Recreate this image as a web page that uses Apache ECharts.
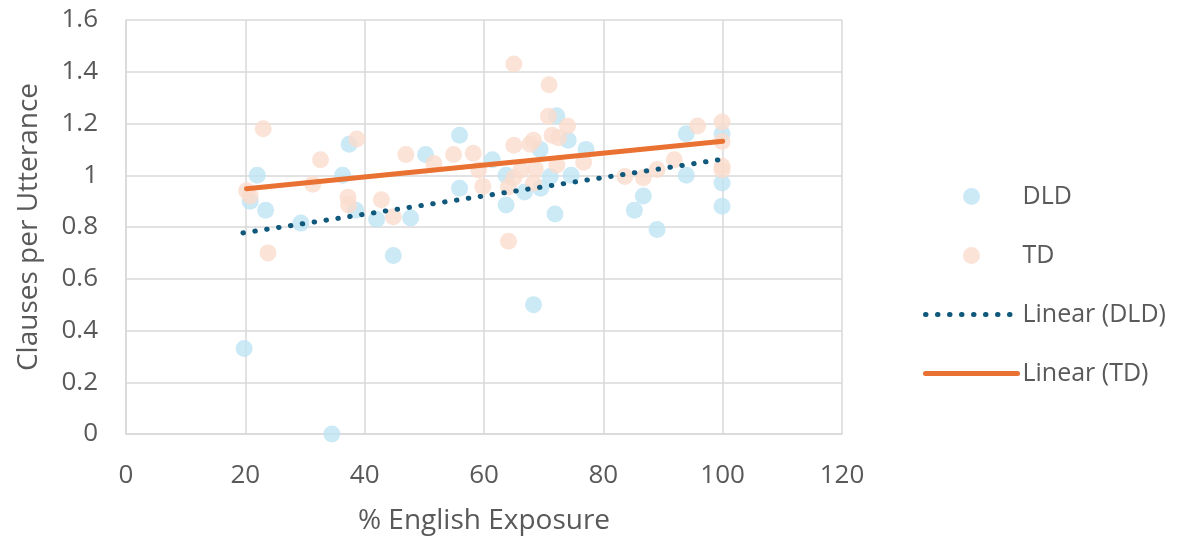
<!DOCTYPE html>
<html>
<head>
<meta charset="utf-8">
<script src="https://cdn.jsdelivr.net/npm/echarts@6/dist/echarts.min.js"></script>
<style>
  html, body { margin: 0; padding: 0; background: #ffffff; }
  #chart { width: 1181px; height: 550px; }
</style>
</head>
<body>
<div id="chart"></div>
<script>
// Clauses per utterance against % English exposure, DLD and TD children
const dldPoints = [
  [19.8, 0.33], [20.8, 0.90], [22.0, 1.00], [23.4, 0.865], [29.3, 0.815],
  [34.5, 0.00], [36.3, 1.00], [37.4, 1.12], [38.5, 0.865], [42.0, 0.83],
  [44.8, 0.69], [47.7, 0.835], [50.2, 1.08], [55.9, 1.155], [55.9, 0.95],
  [61.4, 1.06], [63.7, 1.00], [63.7, 0.885], [66.8, 0.935], [68.3, 0.50],
  [69.5, 0.95], [69.4, 1.10], [71.1, 0.995], [71.9, 0.85], [72.2, 1.23],
  [74.1, 1.135], [74.6, 1.00], [77.1, 1.10], [85.2, 0.865], [86.7, 0.92],
  [89.0, 0.79], [93.9, 1.16], [93.9, 1.00], [99.9, 1.16], [99.9, 0.97],
  [99.9, 0.88]
];
const tdPoints = [
  [20.2, 0.94], [20.8, 0.92], [23.0, 1.18], [23.8, 0.70], [31.3, 0.965],
  [32.6, 1.06], [37.2, 0.915], [37.3, 0.885], [38.7, 1.14], [42.8, 0.905],
  [44.8, 0.84], [46.9, 1.08], [51.6, 1.045], [54.9, 1.08], [58.2, 1.085],
  [59.1, 1.02], [59.8, 0.957], [64.1, 0.745], [64.1, 0.955], [65.0, 1.43],
  [65.0, 1.116], [65.0, 0.99], [66.2, 1.02], [67.7, 1.12], [68.3, 1.135],
  [68.3, 0.97], [68.6, 1.025], [70.8, 1.228], [70.9, 1.35], [71.4, 1.155],
  [72.5, 1.145], [72.2, 1.04], [74.0, 1.19], [76.7, 1.05], [83.6, 0.995],
  [86.7, 0.99], [89.0, 1.022], [91.9, 1.06], [95.8, 1.19], [99.9, 1.206],
  [99.9, 1.13], [99.9, 1.035], [99.9, 1.02]
];
// Linear trend lines (end points)
const dldTrend = [[19.6, 0.777], [100, 1.062]];
const tdTrend = [[20.2, 0.948], [100, 1.131]];

const seriesNames = ['DLD', 'TD', 'Linear (DLD)', 'Linear (TD)'];
const xTitle = '% English Exposure';
const yTitle = 'Clauses per Utterance';

const FONT = '"Open Sans", Roboto, sans-serif';
const TEXT = '#595959';
const GRID = '#d9d9d9';
const DLD_LINE = '#10587c';
const TD_LINE = '#e97132';

const chart = echarts.init(document.getElementById('chart'));
chart.setOption({
  animation: false,
  backgroundColor: '#ffffff',
  textStyle: { fontFamily: FONT },
  grid: { left: 126, right: 339, top: 20, bottom: 116 },
  xAxis: {
    type: 'value', min: 0, max: 120, interval: 20,
    name: xTitle, nameLocation: 'middle', nameGap: 73,
    nameTextStyle: { fontSize: 28, color: TEXT, fontFamily: FONT },
    axisLine: { show: true, lineStyle: { color: GRID, width: 1.5 } },
    axisTick: { show: false },
    axisLabel: { fontSize: 26, color: TEXT, margin: 29, fontFamily: FONT },
    splitLine: { show: true, lineStyle: { color: GRID, width: 1.5 } }
  },
  yAxis: {
    type: 'value', min: 0, max: 1.6, interval: 0.2,
    name: yTitle, nameLocation: 'middle', nameGap: 83,
    nameTextStyle: { fontSize: 28, color: TEXT, fontFamily: FONT },
    axisLine: { show: true, lineStyle: { color: GRID, width: 1.5 } },
    axisTick: { show: false },
    axisLabel: { fontSize: 26, color: TEXT, margin: 28, fontFamily: FONT },
    splitLine: { show: true, lineStyle: { color: GRID, width: 1.5 } }
  },
  legend: {
    orient: 'vertical', left: 918, top: 179,
    itemWidth: 92, itemHeight: 17, itemGap: 34,
    data: [
      { name: seriesNames[0] },
      { name: seriesNames[1] },
      { name: seriesNames[2], itemStyle: { opacity: 0 },
        lineStyle: { width: 5, type: [0.5, 11.5], cap: 'round', color: DLD_LINE } },
      { name: seriesNames[3], itemStyle: { opacity: 0 },
        lineStyle: { width: 5, cap: 'round', color: TD_LINE } }
    ],
    textStyle: { fontSize: 25, color: TEXT, fontFamily: FONT, padding: [0, 0, 0, 0] }
  },
  series: [
    {
      name: seriesNames[0], type: 'scatter', data: dldPoints,
      symbol: 'circle', symbolSize: 17,
      itemStyle: { color: '#bfe3f4' }, z: 2
    },
    {
      name: seriesNames[1], type: 'scatter', data: tdPoints,
      symbol: 'circle', symbolSize: 17,
      itemStyle: { color: '#fadccd' }, z: 3
    },
    {
      name: seriesNames[2], type: 'line', data: dldTrend,
      symbol: 'none', showSymbol: false, z: 4,
      itemStyle: { color: DLD_LINE },
      lineStyle: { color: DLD_LINE, width: 5, type: [0.5, 11.5], cap: 'round' }
    },
    {
      name: seriesNames[3], type: 'line', data: tdTrend,
      symbol: 'none', showSymbol: false, z: 5,
      itemStyle: { color: TD_LINE },
      lineStyle: { color: TD_LINE, width: 5, cap: 'round' }
    }
  ]
});
</script>
</body>
</html>
